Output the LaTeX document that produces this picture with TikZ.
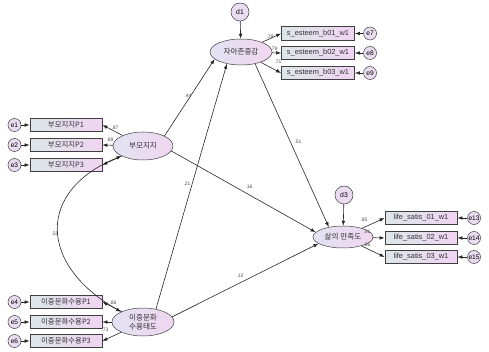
\documentclass[tikz,border=0pt]{standalone}
\usepackage{fontspec}
\setmainfont{Liberation Sans}
\newfontfamily\kr{Noto Sans CJK KR}
\usetikzlibrary{shapes.geometric,arrows.meta}
\definecolor{boxl}{HTML}{DCE6E8}
\definecolor{boxr}{HTML}{F0D4F2}
\definecolor{ell}{HTML}{E2E2F2}
\definecolor{elr}{HTML}{F0D6F0}
\definecolor{circ}{HTML}{EADCF0}
\definecolor{edge}{HTML}{404040}
\begin{document}
\begin{tikzpicture}[x=1pt,y=-1pt,
 obs/.style={draw=edge, line width=0.8pt, minimum width=72pt, minimum height=13.5pt, inner sep=0pt, left color=boxl, right color=boxr, font=\fontsize{7.4}{8}\selectfont, text=black!80},
 lat/.style={ellipse, draw=edge, line width=0.5pt, inner sep=0pt, left color=ell, right color=elr, font=\kr\fontsize{7.6}{9}\selectfont, align=center, text=black!80},
 err/.style={circle, draw=edge, line width=0.5pt, fill=circ, inner sep=0pt, minimum size=13pt, font=\fontsize{6.6}{7}\selectfont},
 dist/.style={circle, draw=edge, line width=0.5pt, fill=circ, inner sep=0pt, minimum size=18pt, font=\fontsize{6.8}{7}\selectfont},
 arr/.style={-{Latex[length=5pt,width=3.6pt]}, line width=0.6pt, black!85},
 coef/.style={font=\fontsize{5}{6}\selectfont, text=black!70, inner sep=0pt}
]
\useasboundingbox (0,0) rectangle (489,352);
% latent
\node[lat, minimum width=62pt, minimum height=26pt] (sa) at (241,52) {자아존중감};
\node[lat, minimum width=60pt, minimum height=28pt] (pm) at (143,146) {부모지지};
\node[lat, minimum width=62pt, minimum height=28pt] (ic) at (143,322) {이중문화\\수용태도};
\node[lat, minimum width=60pt, minimum height=22pt] (ls) at (343,237) {삶의 만족도};
% observed
\node[obs] (p1) at (66,125) {\kr 부모지지P1};
\node[obs] (p2) at (66,145) {\kr 부모지지P2};
\node[obs] (p3) at (66,165) {\kr 부모지지P3};
\node[obs] (q1) at (66,302) {\kr 이중문화수용P1};
\node[obs] (q2) at (66,322) {\kr 이중문화수용P2};
\node[obs] (q3) at (66,341) {\kr 이중문화수용P3};
\node[obs, minimum width=73pt] (s1) at (318,33.5) {s\_esteem\_b01\_w1};
\node[obs, minimum width=73pt] (s2) at (318,53) {s\_esteem\_b02\_w1};
\node[obs, minimum width=73pt] (s3) at (318,73) {s\_esteem\_b03\_w1};
\node[obs] (l1) at (421,218) {life\_satis\_01\_w1};
\node[obs] (l2) at (421,238) {life\_satis\_02\_w1};
\node[obs] (l3) at (421,257) {life\_satis\_03\_w1};
% errors
\node[err] (e1) at (14.5,125) {e1};
\node[err] (e2) at (14.5,145) {e2};
\node[err] (e3) at (14.5,165) {e3};
\node[err] (e4) at (14.5,302) {e4};
\node[err] (e5) at (14.5,322) {e5};
\node[err] (e6) at (14.5,341) {e6};
\node[err] (e7) at (370,33.5) {e7};
\node[err] (e8) at (370,53) {e8};
\node[err] (e9) at (370,73) {e9};
\node[err] (e13) at (474,218) {e13};
\node[err] (e14) at (474,238) {e14};
\node[err] (e15) at (474,257) {e15};
\node[dist] (d1) at (240,12) {d1};
\node[dist] (d3) at (344,195) {d3};
% error arrows
\foreach \e/\b in {e1/p1,e2/p2,e3/p3,e4/q1,e5/q2,e6/q3,e7/s1,e8/s2,e9/s3,e13/l1,e14/l2,e15/l3}
  \draw[arr] (\e) -- (\b);
\draw[arr] (d1) -- (sa);
\draw[arr] (d3) -- (ls);
% loadings
\foreach \b in {p1,p2,p3} \draw[arr] (pm) -- (\b.east);
\foreach \b in {q1,q2,q3} \draw[arr] (ic) -- (\b.east);
\foreach \b in {s1,s2,s3} \draw[arr] (sa) -- (\b.west);
\foreach \b in {l1,l2,l3} \draw[arr] (ls) -- (\b.west);
% structural paths
\draw[arr] (pm.25) -- (sa.195);
\draw[arr] (ic.45) -- (sa.220);
\draw[arr] (sa.320) -- (ls.145);
\draw[arr] (pm.350) -- (ls.170);
\draw[arr] (ic.10) -- (ls.195);
\draw[arr, {Latex[length=5pt,width=3.6pt]}-{Latex[length=5pt,width=3.6pt]}] (pm.205) .. controls +(-84,34) and +(-84,-48) .. (ic.155);
% coefficients
\node[coef] (c1) at (115,128) {.87};
\node[coef] (c2) at (110,140) {.89};
\node[coef] (c3) at (113,303) {.86};
\node[coef] (c4) at (105,330) {.73};
\node[coef] (c5) at (270,37) {.78};
\node[coef] (c6) at (274,49) {.79};
\node[coef] (c7) at (278,62) {.71};
\node[coef] (c8) at (364,220) {.85};
\node[coef] (c9) at (367,232) {.91};
\node[coef] (c10) at (367,245) {.86};
\node[coef] (c11) at (188,96) {.44};
\node[coef] (c12) at (298,142) {.51};
\node[coef] (c13) at (249,187) {.16};
\node[coef] (c14) at (187,184) {.21};
\node[coef] (c15) at (240,276) {.12};
\node[coef] (c16) at (55,234) {.55};
\end{tikzpicture}
\end{document}
